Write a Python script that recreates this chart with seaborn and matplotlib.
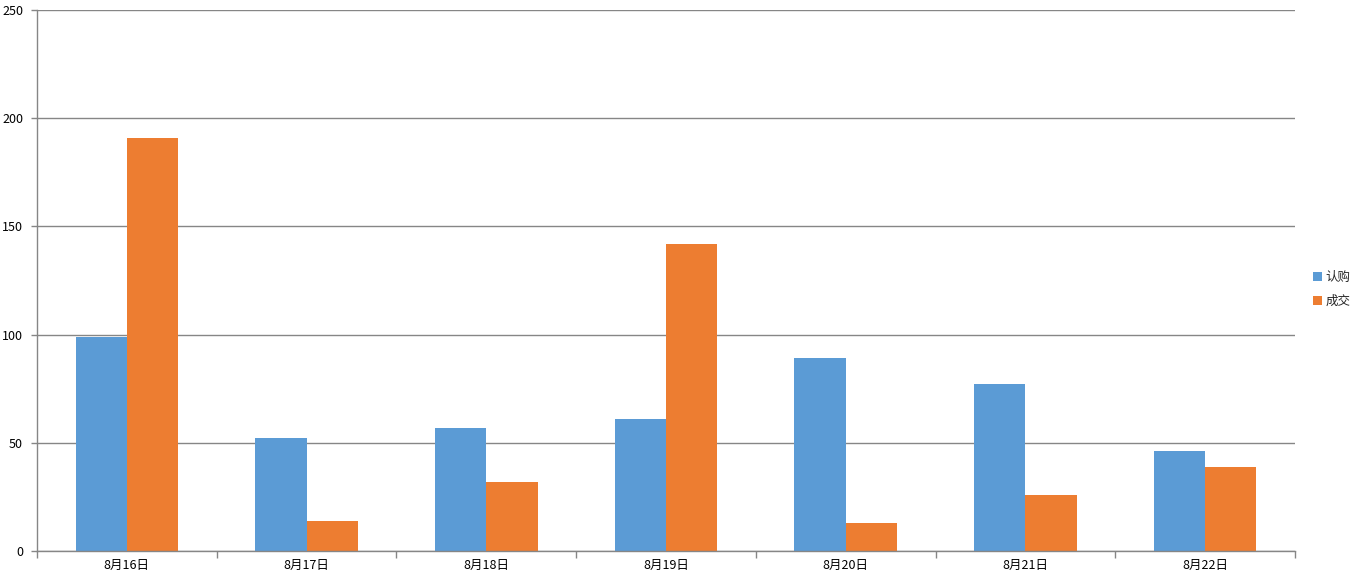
import matplotlib
matplotlib.use("Agg")
import matplotlib.pyplot as plt
import seaborn as sns
import pandas as pd
import numpy as np

categories = ["8月16日", "8月17日", "8月18日", "8月19日", "8月20日", "8月21日", "8月22日"]
series_names = ["认购", "成交"]
rengou = [99, 52, 57, 61, 89, 77, 46]
chengjiao = [191, 14, 32, 142, 13, 26, 39]
yticks = [0, 50, 100, 150, 200, 250]

sns.set_theme(style="white")
plt.rcParams['font.family'] = ['Noto Sans CJK SC', 'DejaVu Sans']

df = pd.DataFrame({
    "date": categories * 2,
    "series": [series_names[0]] * len(categories) + [series_names[1]] * len(categories),
    "value": rengou + chengjiao,
})

fig = plt.figure(figsize=(13.62, 5.79), dpi=100)
ax = fig.add_axes([37/1362, 28/579, (1295-37)/1362, (551-10)/579])

palette = {series_names[0]: "#5B9BD5", series_names[1]: "#ED7D31"}
sns.barplot(data=df, x="date", y="value", hue="series", palette=palette,
            width=0.57, dodge=True, ax=ax, saturation=1, legend=True,
            linewidth=0, edgecolor="none")

gray = "#868686"
ax.set_ylim(0, 250)
ax.set_xlim(-0.5, len(categories) - 0.5)
ax.set_yticks(yticks)
ax.yaxis.grid(True, color=gray, linewidth=1)
ax.set_axisbelow(True)
for s in ["top", "right"]:
    ax.spines[s].set_visible(False)
for s in ["left", "bottom"]:
    ax.spines[s].set_color(gray)
    ax.spines[s].set_linewidth(1)

ax.set_xticks(range(len(categories)))
ax.set_xticklabels(categories, fontsize=9, color="black")
ax.tick_params(axis="x", which="major", length=0, pad=6)
ax.set_xticks(np.arange(-0.5, len(categories), 1.0), minor=True)
ax.tick_params(axis="x", which="minor", length=5, color=gray, width=1, bottom=True, direction="out")
ax.tick_params(axis="y", length=4, color=gray, width=1, labelsize=9, labelcolor="black", pad=6, left=True, direction="out")
ax.set_xlabel("")
ax.set_ylabel("")

handles, labels = ax.get_legend_handles_labels()
ax.get_legend().remove()
fig.legend(handles, labels, loc="center left", bbox_to_anchor=(1307/1362, 0.5),
           frameon=False, fontsize=9, handlelength=0.7, handleheight=0.7,
           handletextpad=0.3, labelspacing=0.9, borderpad=0)

fig.savefig("out.png", dpi=100)
